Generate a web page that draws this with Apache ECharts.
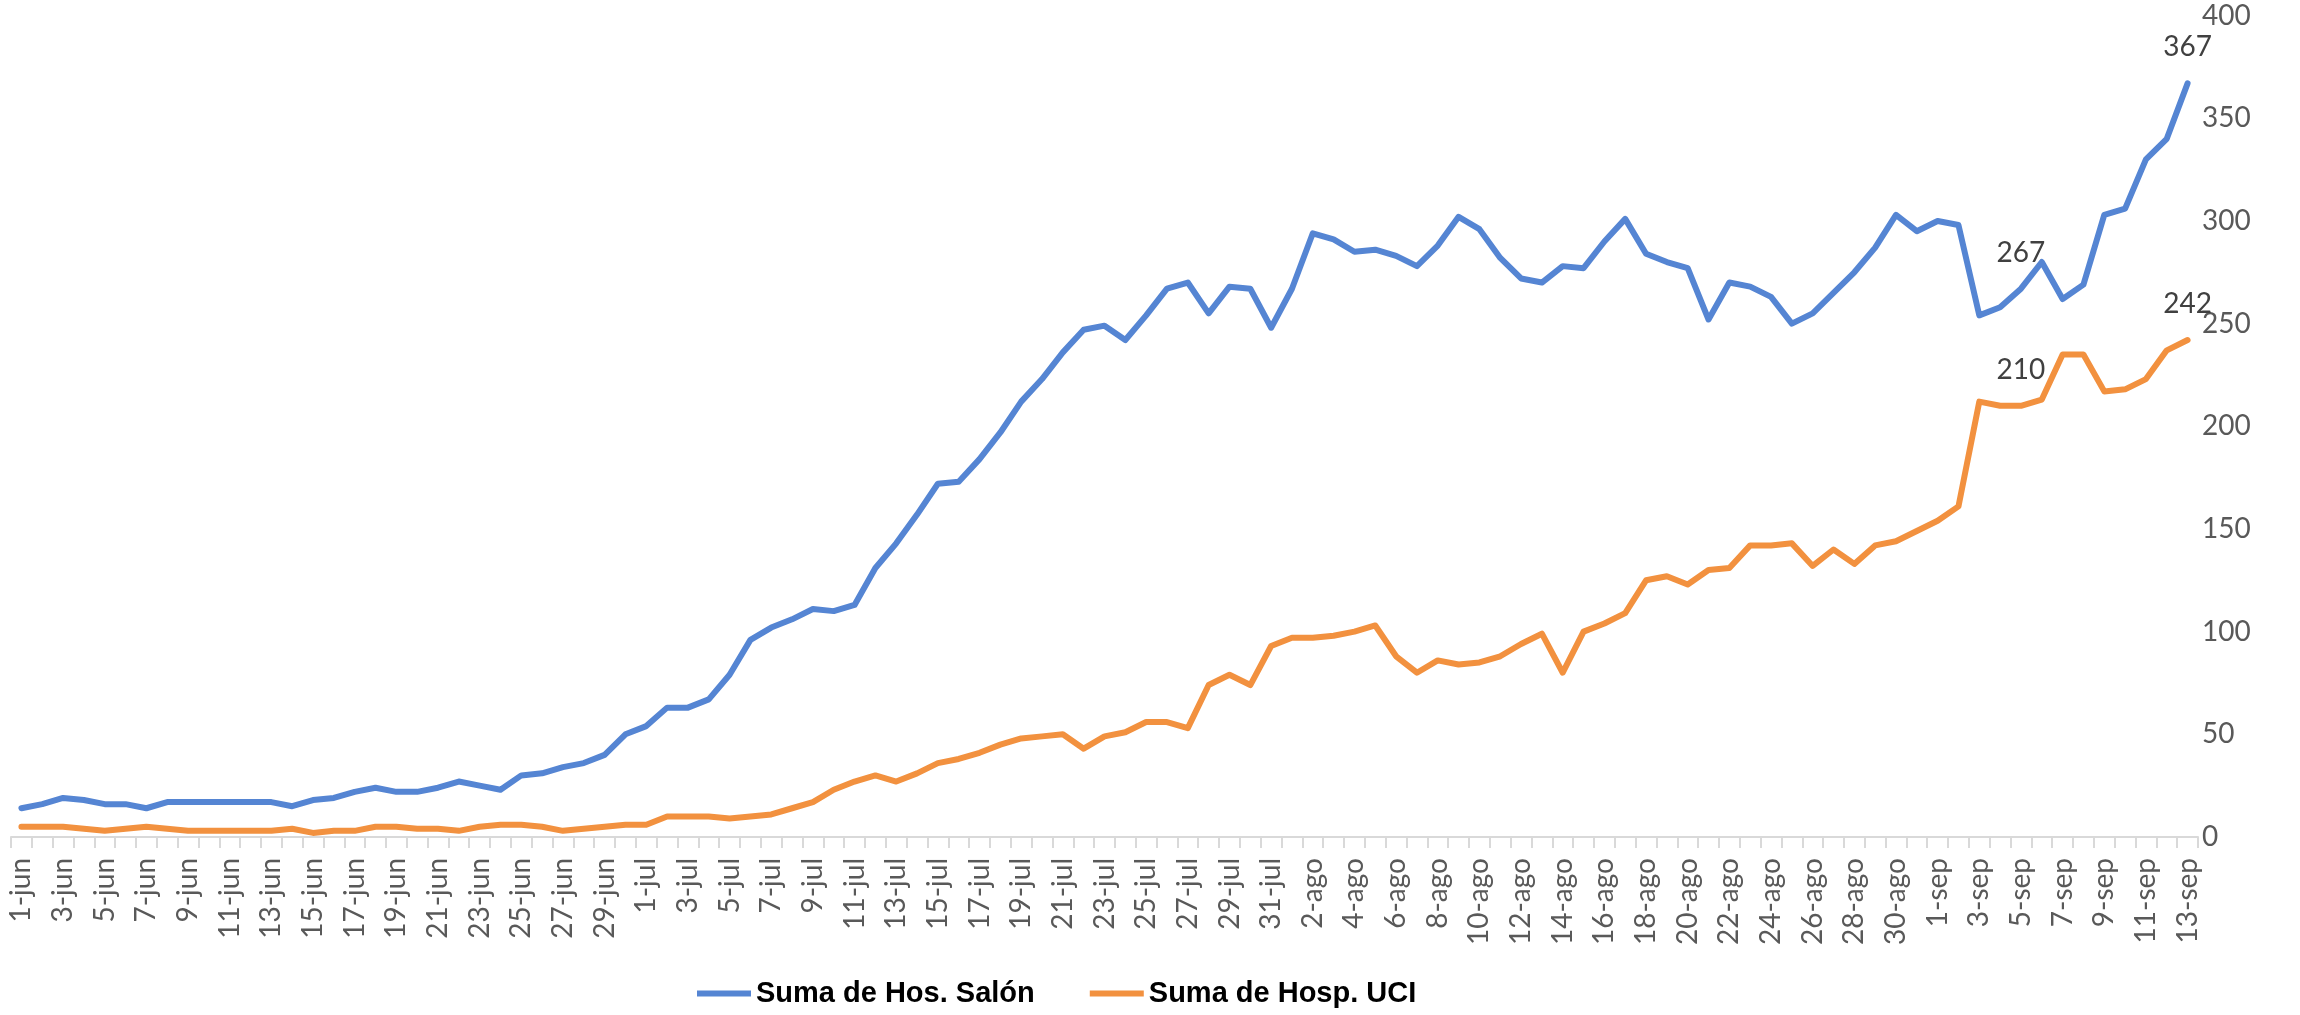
<!DOCTYPE html>
<html>
<head>
<meta charset="utf-8">
<script src="https://cdn.jsdelivr.net/npm/echarts@6/dist/echarts.min.js"></script>
<style>
  html, body { margin: 0; padding: 0; background: #ffffff; }
  #chart { width: 2300px; height: 1015px; }
</style>
</head>
<body>
<div id="chart"></div>
<script>
// Categories: 1-jun .. 13-sep
const junDays = Array.from({length: 30}, (_, i) => (i + 1) + '-jun');
const julDays = Array.from({length: 31}, (_, i) => (i + 1) + '-jul');
const agoDays = Array.from({length: 31}, (_, i) => (i + 1) + '-ago');
const sepDays = Array.from({length: 13}, (_, i) => (i + 1) + '-sep');
const categories = junDays.concat(julDays, agoDays, sepDays);

const seriesNames = ['Suma de Hos. Salón', 'Suma de Hosp. UCI'];

const salon = [
  14, 16, 19, 18, 16, 16, 14, 17, 17, 17, 17, 17, 17, 15, 18, 19, 22, 24, 22, 22,
  24, 27, 25, 23, 30, 31, 34, 36, 40, 50,
  54, 63, 63, 67, 79, 96, 102, 106, 111, 110, 113, 131, 143, 157, 172, 173, 184, 197, 212, 223,
  236, 247, 249, 242, 254, 267, 270, 255, 268, 267, 248,
  267, 294, 291, 285, 286, 283, 278, 288, 302, 296, 282, 272, 270, 278, 277, 290, 301, 284, 280,
  277, 252, 270, 268, 263, 250, 255, 265, 275, 287, 303, 295,
  300, 298, 254, 258, 267, 280, 262, 269, 303, 306, 330, 340, 367
];

const uci = [
  5, 5, 5, 4, 3, 4, 5, 4, 3, 3, 3, 3, 3, 4, 2, 3, 3, 5, 5, 4,
  4, 3, 5, 6, 6, 5, 3, 4, 5, 6,
  6, 10, 10, 10, 9, 10, 11, 14, 17, 23, 27, 30, 27, 31, 36, 38, 41, 45, 48, 49,
  50, 43, 49, 51, 56, 56, 53, 74, 79, 74, 93,
  97, 97, 98, 100, 103, 88, 80, 86, 84, 85, 88, 94, 99, 80, 100, 104, 109, 125, 127,
  123, 130, 131, 142, 142, 143, 132, 140, 133, 142, 144, 149,
  154, 161, 212, 210, 210, 213, 235, 235, 217, 218, 223, 237, 242
];

// Categories whose points carry a data label
const labelledPoints = ['5-sep', '13-sep'];

const yTicks = { min: 0, max: 400, interval: 50 };

const FONT = 'Lato, "Noto Sans", sans-serif';
const LEGEND_FONT = '"Liberation Sans", Arial, sans-serif';
const BLUE = '#5585d3';
const ORANGE = '#f2913f';

function withLabels(values) {
  return values.map((v, i) => {
    if (labelledPoints.indexOf(categories[i]) >= 0) {
      return {
        value: v,
        label: {
          show: true, position: 'top', distance: 22,
          color: '#404040', fontSize: 28, fontFamily: FONT
        }
      };
    }
    return v;
  });
}

const chart = echarts.init(document.getElementById('chart'), null, {renderer: 'canvas'});
chart.setOption({
  animation: false,
  backgroundColor: '#ffffff',
  grid: { left: 11, right: 102, top: 15.6, bottom: 178, containLabel: false },
  legend: {
    left: 692, bottom: 2,
    itemWidth: 54, itemHeight: 6, itemGap: 55,
    icon: 'rect',
    textStyle: { color: '#000000', fontSize: 29, fontWeight: 'bold', fontFamily: LEGEND_FONT },
    data: seriesNames
  },
  xAxis: {
    type: 'category',
    data: categories,
    boundaryGap: true,
    axisLine: { show: true, lineStyle: { color: '#d9d9d9', width: 2 } },
    axisTick: { show: true, interval: 0, length: 11, lineStyle: { color: '#d9d9d9', width: 2 } },
    axisLabel: {
      interval: 1, rotate: 90, margin: 21,
      color: '#595959', fontSize: 28, fontFamily: FONT
    },
    splitLine: { show: false }
  },
  yAxis: {
    type: 'value',
    position: 'right',
    min: yTicks.min, max: yTicks.max, interval: yTicks.interval,
    axisLine: { show: false },
    axisTick: { show: false },
    splitLine: { show: false },
    axisLabel: { margin: 4, padding: [6, 0, 0, 0], color: '#595959', fontSize: 28, fontFamily: FONT }
  },
  series: [
    {
      name: seriesNames[0], type: 'line', data: withLabels(salon),
      symbol: 'circle', symbolSize: 0, showSymbol: true,
      lineStyle: { color: BLUE, width: 6, join: 'round', cap: 'round' },
      itemStyle: { color: BLUE }
    },
    {
      name: seriesNames[1], type: 'line', data: withLabels(uci),
      symbol: 'circle', symbolSize: 0, showSymbol: true,
      lineStyle: { color: ORANGE, width: 6, join: 'round', cap: 'round' },
      itemStyle: { color: ORANGE }
    }
  ]
});
</script>
</body>
</html>
